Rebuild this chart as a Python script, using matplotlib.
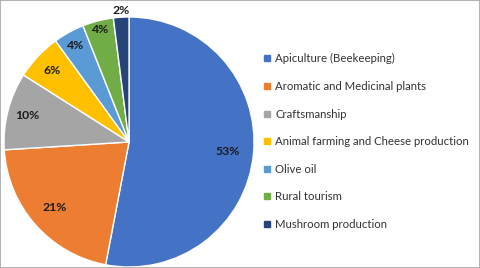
import numpy as np
import matplotlib
matplotlib.use('Agg')
import matplotlib.pyplot as plt
from matplotlib.lines import Line2D
from matplotlib.patches import Rectangle

# Date
categories = ['Apiculture (Beekeeping)', 'Aromatic and Medicinal plants', 'Craftsmanship',
              'Animal farming and Cheese production', 'Olive oil', 'Rural tourism',
              'Mushroom production']
shares = [53, 21, 10, 6, 4, 4, 2]
colors = ['#4472C4', '#ED7D31', '#A5A5A5', '#FFC000', '#5B9BD5', '#70AD47', '#264478']
label_radius = [0.79, 0.79, 0.84, 0.84, 0.88, 0.93, 1.05]

plt.rcParams['font.family'] = ['Lato', 'DejaVu Sans']

fig = plt.figure(figsize=(4.8, 2.68), dpi=100)
ax = fig.add_axes([0.0083, 0.0037, 0.521, 0.933])

wedges, _ = ax.pie(shares, colors=colors, startangle=90, counterclock=False,
                   wedgeprops=dict(edgecolor='white', linewidth=1.0))
ax.set_xlim(-1, 1)
ax.set_ylim(-1, 1)
ax.set_aspect('equal')
ax.axis('off')

# etichete procentuale
for w, v, r in zip(wedges, shares, label_radius):
    ang = np.deg2rad((w.theta1 + w.theta2) / 2)
    ax.text(r * np.cos(ang), r * np.sin(ang), f'{v}%', ha='center', va='center',
            fontsize=8.8, fontweight='bold', color='#1a1a1a', clip_on=False)

handles = [Line2D([], [], marker='s', linestyle='', markersize=4.5,
                  markerfacecolor=c, markeredgecolor=c) for c in colors]
fig.legend(handles, categories, loc='center left', bbox_to_anchor=(0.54, 0.472),
           frameon=False, fontsize=8.2, labelspacing=1.45, handlelength=0.6,
           handletextpad=0.4, borderaxespad=0, labelcolor='#333333')

# chenar
fig.add_artist(Rectangle((0, 0), 1, 1, transform=fig.transFigure, fill=False,
                         edgecolor='#A6A6A6', linewidth=1.2))

fig.savefig('out.png', dpi=100)
